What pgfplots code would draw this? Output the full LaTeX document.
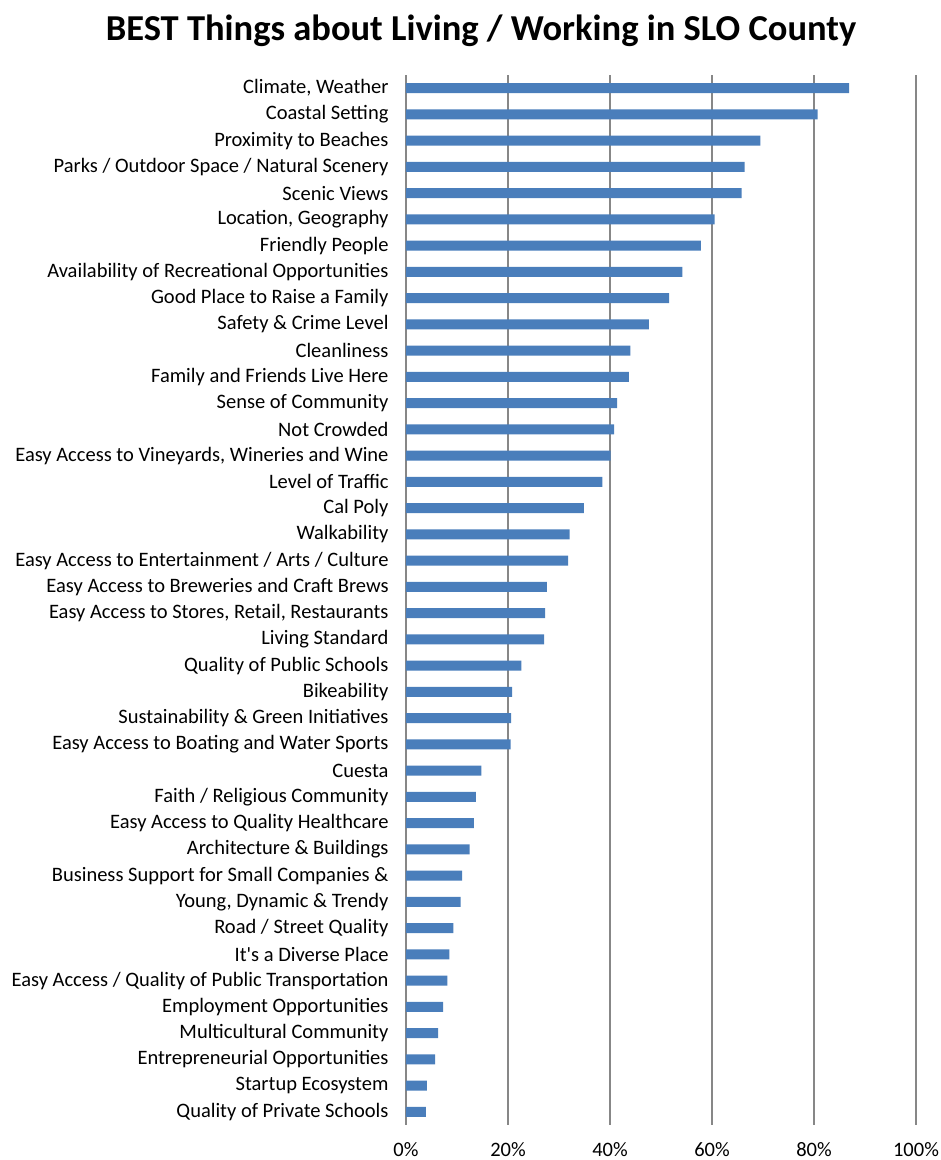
\documentclass[border=0pt]{standalone}
\usepackage{pgfplots}
\pgfplotsset{compat=1.18}
\usepackage{fontspec}
\setmainfont{Carlito}
\definecolor{barblue}{RGB}{74,126,187}
\definecolor{gridgray}{RGB}{135,135,135}
\begin{document}
\begin{tikzpicture}[x=1pt,y=1pt]
\path[use as bounding box] (0,0) rectangle (941,1160);
\node[font=\bfseries\fontsize{36.5}{40}\selectfont] at (481,1129) {BEST Things about Living / Working in SLO County};
\begin{axis}[at={(406pt,35pt)}, anchor=south west, scale only axis,
  width=510pt, height=1050pt,
  xmin=0, xmax=100, ymin=-0.5, ymax=39.5, y dir=reverse,
  xtick={0,20,...,100},
  xticklabel={\pgfmathprintnumber{\tick}\%},
  ytick={0,...,39},
  yticklabels={{Climate, Weather},{Coastal Setting},{Proximity to Beaches},{Parks / Outdoor Space / Natural Scenery},{Scenic Views},{Location, Geography},{Friendly People},{Availability of Recreational Opportunities},{Good Place to Raise a Family},{Safety \& Crime Level},{Cleanliness},{Family and Friends Live Here},{Sense of Community},{Not Crowded},{Easy Access to Vineyards, Wineries and Wine},{Level of Traffic},{Cal Poly},{Walkability},{Easy Access to Entertainment / Arts / Culture},{Easy Access to Breweries and Craft Brews},{Easy Access to Stores, Retail, Restaurants},{Living Standard},{Quality of Public Schools},{Bikeability},{Sustainability \& Green Initiatives},{Easy Access to Boating and Water Sports},{Cuesta},{Faith / Religious Community},{Easy Access to Quality Healthcare},{Architecture \& Buildings},{Business Support for Small Companies \&},{Young, Dynamic \& Trendy},{Road / Street Quality},{It\textquotesingle s a Diverse Place},{Easy Access / Quality of Public Transportation},{Employment Opportunities},{Multicultural Community},{Entrepreneurial Opportunities},{Startup Ecosystem},{Quality of Private Schools}},
  axis line style={draw=none},
  major tick length=0pt,
  xmajorgrids,
  major grid style={draw=gridgray, line width=1.3pt},
  tick label style={font=\fontsize{20.5}{24}\selectfont, text=black},
  yticklabel style={xshift=-14pt},
  xticklabel style={yshift=-14pt},
  /pgf/number format/assume math mode=true,
  xbar, bar width=10pt,
]
\addplot[fill=barblue, draw=none] coordinates {
(86.9,0) (80.7,1) (69.5,2) (66.4,3) (65.8,4) (60.5,5) (57.8,6) (54.2,7) (51.6,8) (47.6,9)
(44.0,10) (43.7,11) (41.4,12) (40.8,13) (40.1,14) (38.5,15) (34.9,16) (32.1,17) (31.8,18) (27.6,19)
(27.3,20) (27.1,21) (22.6,22) (20.8,23) (20.6,24) (20.5,25) (14.8,26) (13.7,27) (13.3,28) (12.5,29)
(11.0,30) (10.7,31) (9.3,32) (8.5,33) (8.1,34) (7.3,35) (6.3,36) (5.7,37) (4.1,38) (3.9,39)
};
\end{axis}
\end{tikzpicture}
\end{document}
